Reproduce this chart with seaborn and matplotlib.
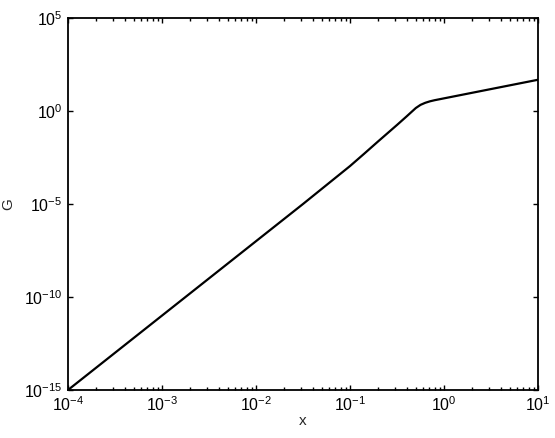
import numpy as np
import pandas as pd
import matplotlib
matplotlib.use("Agg")
import matplotlib.pyplot as plt
import seaborn as sns
from matplotlib.ticker import LogLocator, NullLocator

# Values (log10 x, log10 G)
log_x = [-4.0, -3.0, -2.0, -1.5, -1.25, -1.0, -0.85, -0.7, -0.5, -0.4, -0.3,
         -0.25, -0.2, -0.15, -0.1, -0.05, 0.0, 0.25, 0.5, 0.75, 1.0]
log_g = [-15.0, -11.0, -7.0, -5.0, -3.98, -2.96, -2.30, -1.63, -0.75, -0.3, 0.16,
         0.33, 0.44, 0.52, 0.58, 0.63, 0.68, 0.93, 1.18, 1.43, 1.68]

x_ticks = [1e-4, 1e-3, 1e-2, 1e-1, 1e0, 1e1]
y_ticks = [1e-15, 1e-10, 1e-5, 1e0, 1e5]

df = pd.DataFrame({"x": np.power(10.0, log_x), "G": np.power(10.0, log_g)})

sns.set_style("ticks")
plt.rcParams["font.family"] = ["Liberation Sans", "DejaVu Sans"]
plt.rcParams["mathtext.default"] = "regular"
plt.rcParams["axes.unicode_minus"] = False

fig = plt.figure(figsize=(5.55, 4.38), dpi=100)
ax = fig.add_axes([0.1225, 0.1096, 0.8469, 0.8493])

sns.lineplot(data=df, x="x", y="G", color="black", linewidth=1.6, ax=ax)

ax.set_xscale("log")
ax.set_yscale("log")
ax.set_xlim(1e-4, 1e1)
ax.set_ylim(1e-15, 1e5)
ax.set_xticks(x_ticks)
ax.set_yticks(y_ticks)
ax.xaxis.set_minor_locator(LogLocator(base=10, subs=np.arange(2, 10)))
ax.yaxis.set_minor_locator(NullLocator())

for s in ax.spines.values():
    s.set_visible(True)
    s.set_linewidth(1.3)
    s.set_color("black")

ax.tick_params(which="both", direction="in", top=True, right=True,
               colors="black", labelsize=11.5, width=1.0)
ax.tick_params(which="major", length=3.5, pad=4)
ax.tick_params(which="minor", length=2)

ax.set_xlabel("x", fontsize=11, labelpad=0)
ax.set_ylabel("G", fontsize=11, labelpad=6)

fig.savefig("out.png", dpi=100)
